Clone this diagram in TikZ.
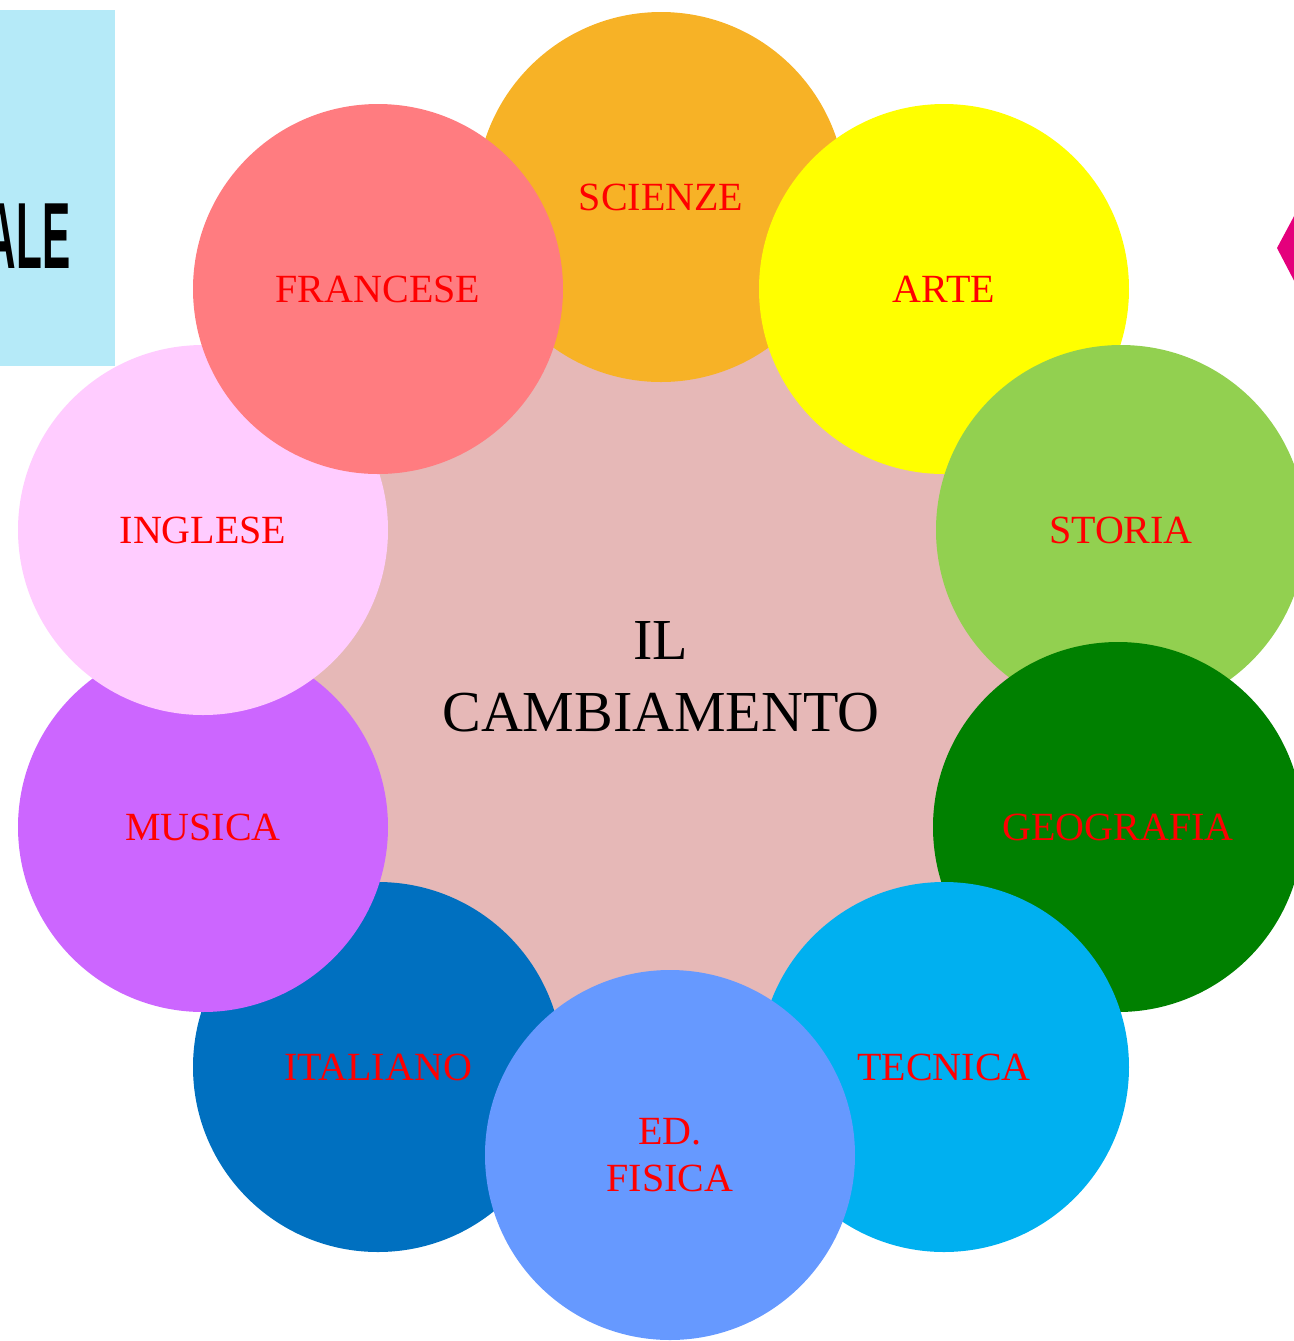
\documentclass[tikz,border=0pt]{standalone}
\usepackage{fontspec}
\setmainfont{Liberation Serif}
\newfontfamily\boldsans{Liberation Sans}
\usetikzlibrary{positioning}
\definecolor{cCenter}{HTML}{E6B8B7}
\definecolor{cScienze}{HTML}{F7B226}
\definecolor{cArte}{HTML}{FFFF00}
\definecolor{cStoria}{HTML}{92D050}
\definecolor{cGeo}{HTML}{008000}
\definecolor{cTecnica}{HTML}{00B0F0}
\definecolor{cEdFis}{HTML}{6699FF}
\definecolor{cItal}{HTML}{0070C0}
\definecolor{cMusica}{HTML}{CC66FF}
\definecolor{cInglese}{HTML}{FFCCFF}
\definecolor{cFrancese}{HTML}{FF7C80}
\definecolor{cBox}{HTML}{B5EAF8}
\definecolor{cMagenta}{HTML}{E4007C}
\definecolor{cLabel}{HTML}{FF0000}
\tikzset{
  subject/.style={circle, minimum size=185pt, inner sep=0pt, draw=none, fill=#1,
    text=cLabel, font=\fontsize{20}{23.5}\selectfont, align=center},
  hub/.style={circle, minimum size=450pt, inner sep=0pt, draw=none, fill=cCenter,
    text=black, font=\fontsize{29}{36}\selectfont, align=center}
}
\begin{document}
\begin{tikzpicture}[x=0.5pt,y=-0.5pt]
\useasboundingbox (0,0) rectangle (1294,1341);
% left decorative box
\begin{scope}
\clip (0,0) rectangle (1294,1341);
\fill[cBox] (0,10) rectangle (115,366);
\node[anchor=east, inner sep=0pt, font=\boldsans\bfseries\fontsize{47}{47}\selectfont] (ale) at (71,236) {\scalebox{0.45}[1]{ALE}};
\fill[cMagenta] (1277,248) -- (1300,205) -- (1300,292) -- cycle;
\end{scope}
% hub
\node[hub] (hub) at (661,677) {IL\\CAMBIAMENTO};
% subjects in stacking order
\node[subject=cScienze] (scienze) at (661,197) {SCIENZE};
\node[subject=cArte] (arte) at (944,289) {ARTE};
\node[subject=cStoria] (storia) at (1121,530) {STORIA};
\node[subject=cGeo] (geo) at (1118,827) {GEOGRAFIA};
\node[subject=cTecnica] (tecnica) at (944,1067) {TECNICA};
\node[subject=cItal] (ital) at (378,1067) {ITALIANO};
\node[subject=cMusica] (musica) at (203,827) {MUSICA};
\node[subject=cInglese] (inglese) at (203,530) {INGLESE};
\node[subject=cFrancese] (francese) at (378,289) {FRANCESE};
\node[subject=cEdFis] (edfis) at (670,1155) {ED.\\FISICA};
\end{tikzpicture}
\end{document}
